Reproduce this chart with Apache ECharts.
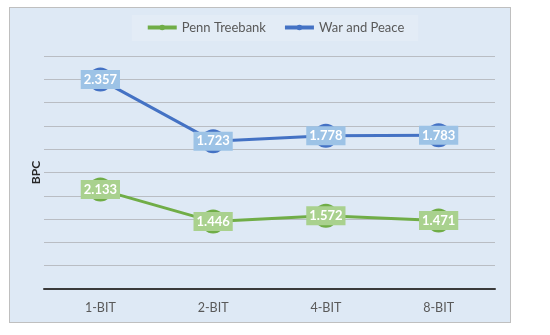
<!DOCTYPE html>
<html>
<head>
<meta charset="utf-8">
<script src="https://cdn.jsdelivr.net/npm/echarts@6/dist/echarts.min.js"></script>
<style>
html,body{margin:0;padding:0;background:#fff;}
#bg{position:absolute;left:9px;top:7px;width:500px;height:314px;border:1px solid #bfbfbf;background:#dee9f5;}
#chart{position:absolute;left:0;top:0;width:550px;height:335px;}
</style>
</head>
<body>
<div id="bg"></div>
<div id="chart"></div>
<script>
var categories = ['1-BIT', '2-BIT', '4-BIT', '8-BIT'];
var pennTreebank = [2.133, 1.446, 1.572, 1.471];
var warAndPeace = [2.357, 1.723, 1.778, 1.783];
var seriesNames = ['Penn Treebank', 'War and Peace'];

var chart = echarts.init(document.getElementById('chart'), null, {renderer: 'canvas'});
var font = 'Lato, "Open Sans", sans-serif';
function labelCfg(bg) {
  return {
    show: true, position: 'inside', color: '#ffffff', fontWeight: 'bold',
    fontSize: 13, lineHeight: 13, fontFamily: font, backgroundColor: bg, padding: [3, 3, 3, 3],
    formatter: function (p) { return p.value.toFixed(3); }
  };
}
chart.setOption({
  animation: false,
  textStyle: {fontFamily: font},
  legend: {
    data: seriesNames, top: 15, left: 'center',
    backgroundColor: 'rgba(255,255,255,0.15)',
    padding: [6, 14, 7, 14],
    itemWidth: 29, itemHeight: 7, itemGap: 17,
    lineStyle: {width: 4},
    textStyle: {color: '#595959', fontSize: 13, fontFamily: font}
  },
  grid: {left: 44, right: 55, top: 56, bottom: 46, containLabel: false},
  xAxis: {
    type: 'category', data: categories, boundaryGap: true,
    axisLine: {lineStyle: {color: '#3a3a3a', width: 2}},
    axisTick: {show: false},
    axisLabel: {color: '#595959', fontSize: 12.5, margin: 12, fontFamily: font}
  },
  yAxis: [{
    type: 'value', min: 0, max: 5, interval: 0.5,
    name: 'BPC', nameLocation: 'middle', nameGap: 2,
    nameTextStyle: {color: '#262626', fontWeight: 'bold', fontSize: 12, fontFamily: font},
    axisLine: {show: false}, axisTick: {show: false}, axisLabel: {show: false},
    splitLine: {lineStyle: {color: '#b9bdc3', width: 1}}
  }, {
    type: 'value', min: 0.2, max: 2.6, show: false,
    splitLine: {show: false}
  }],
  series: [{
    name: seriesNames[0], type: 'line', data: pennTreebank, yAxisIndex: 0,
    symbol: 'circle', symbolSize: 24,
    lineStyle: {color: '#70ad47', width: 3},
    itemStyle: {color: '#70ad47'},
    label: labelCfg('#a9d18e'), z: 3
  }, {
    name: seriesNames[1], type: 'line', data: warAndPeace, yAxisIndex: 1,
    symbol: 'circle', symbolSize: 24,
    lineStyle: {color: '#4472c4', width: 3},
    itemStyle: {color: '#4472c4'},
    label: labelCfg('#9dc3e6'), z: 3
  }]
});
</script>
</body>
</html>
